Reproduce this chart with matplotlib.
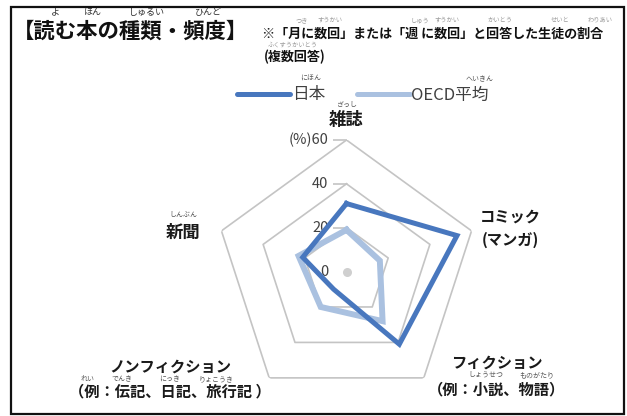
import numpy as np
import matplotlib
matplotlib.use("Agg")
import matplotlib.pyplot as plt
from matplotlib.lines import Line2D
from matplotlib.patches import Rectangle
from matplotlib.transforms import ScaledTranslation

plt.rcParams['font.family'] = ['Noto Sans CJK JP', 'DejaVu Sans']

# ---- data ----
categories = ['雑誌', 'コミック\n(マンガ)', 'フィクション\n（例：小説、物語）',
              'ノンフィクション\n（例：伝記、日記、旅行記 ）', '新聞']
japan = [31, 53, 41, 10, 21]
oecd = [19, 16, 28, 20, 23]
series_names = ['日本', 'OECD平均']
r_ticks = [0, 20, 40, 60]
r_tick_labels = ['0', '20', '40', '(%)60']

W, H = 627, 416
fig = plt.figure(figsize=(W / 100, H / 100), dpi=100)
fig.patch.set_facecolor('white')


def px(x, y):
    """pixel position (from top-left) -> figure fraction"""
    return x / W, 1 - y / H


# ---- radar axes ----
cx, cy, R = 346.5, 271.5, 131.5
ax = fig.add_axes([(cx - R) / W, (H - cy - R) / H, 2 * R / W, 2 * R / H],
                  projection='polar')
ax.set_theta_offset(np.pi / 2)
ax.set_theta_direction(-1)
ax.set_ylim(0, 60)
ax.grid(False)
ax.set_xticks([])
ax.set_yticks([])
ax.spines['polar'].set_visible(False)
ax.patch.set_visible(False)

n = len(categories)
theta = np.linspace(0, 2 * np.pi, n, endpoint=False)
theta_c = np.append(theta, theta[0])

grid_col = '#C4C4C4'
for r in r_ticks[1:]:
    ax.plot(theta_c, [r] * (n + 1), color=grid_col, lw=1.2, zorder=1)
ax.plot([0], [0], 'o', ms=6.5, color='#CFCFCF', mec='none', zorder=1)

# tick dashes and labels along the first spoke
dash_tr = ax.transData + ScaledTranslation(-6.5 / 100, 0, fig.dpi_scale_trans)
lab_tr = ax.transData + ScaledTranslation(-18 / 100, 0, fig.dpi_scale_trans)
for r, lab in zip(r_ticks, r_tick_labels):
    if r > 0:
        ax.plot([0], [r], marker='_', ms=9.4, mew=1.2, color=grid_col,
                transform=dash_tr, zorder=1, clip_on=False)
    ax.text(0, r, lab, transform=lab_tr, ha='right', va='center',
            fontsize=10.5, color='#404040', zorder=2)

jp_col = '#4877BE'
oe_col = '#AAC1E0'
ax.plot(theta_c, oecd + oecd[:1], color=oe_col, lw=4.3, zorder=3,
        solid_joinstyle='miter')
ax.plot(theta_c, japan + japan[:1], color=jp_col, lw=3.6, zorder=4,
        solid_joinstyle='miter')

# ---- category labels (one text per line) ----
lab_lines_y = [[120], [217, 240], [363, 389], [367, 391], [233]]
lab_x = [346, 510, 497, 170, 183]
lab_size = [12.5, 11, 11, 11, 12.5]
for lab, x, ys, fs in zip(categories, lab_x, lab_lines_y, lab_size):
    for line, y in zip(lab.split('\n'), ys):
        fig.text(*px(x, y), line, ha='center', va='center', fontsize=fs,
                 fontweight='bold', color='#1a1a1a')

ruby_col = '#555555'


def ruby(x, y, s, fs=5, col=ruby_col):
    fig.text(*px(x, y), s, ha='center', va='center', fontsize=fs, color=col)


ruby(347, 105, 'ざっし')
ruby(183, 215, 'しんぶん')
ruby(486, 375, 'しょうせつ')
ruby(537, 375, 'ものがたり')
ruby(88, 379, 'れい')
ruby(122, 379, 'でんき')
ruby(170, 379, 'にっき')
ruby(216, 379, 'りょこうき')

# ---- legend ----
leg_y = 94
fig.add_artist(Line2D([237 / W, 290 / W], [1 - leg_y / H] * 2, color=jp_col,
                      lw=3.6, solid_capstyle='round'))
fig.text(*px(292, leg_y + 1), series_names[0], ha='left', va='center',
         fontsize=12, color='#404040')
fig.add_artist(Line2D([357 / W, 410 / W], [1 - leg_y / H] * 2, color=oe_col,
                      lw=3.6, solid_capstyle='round'))
fig.text(*px(411, leg_y + 1), series_names[1], ha='left', va='center',
         fontsize=12, color='#404040')
ruby(311, 79, 'にほん')
ruby(480, 79, 'へいきん')

# ---- title and note ----
fig.text(*px(13, 31), '【読む本の種類・頻度】', ha='left', va='center',
         fontsize=15.4, fontweight='bold', color='#111111')
for x, s in [(55, 'よ'), (93, 'ほん'), (147, 'しゅるい'), (208, 'ひんど')]:
    ruby(x, 12, s, fs=6.5, col='#333333')

fig.text(*px(262, 34), '※「月に数回」または「週 に数回」と回答した生徒の割合',
         ha='left', va='center', fontsize=9.4, fontweight='bold', color='#111111')
fig.text(*px(264, 57), '(複数回答)', ha='left', va='center', fontsize=9.4,
         fontweight='bold', color='#111111')
note_ruby = [(302, 'つき'), (330, 'すうかい'), (420, 'しゅう'), (447, 'すうかい'),
             (500, 'かいとう'), (560, 'せいと'), (600, 'わりあい')]
for x, s in note_ruby:
    ruby(x, 20, s, fs=4.5, col='#9a9a9a')
ruby(293, 45, 'ふくすうかいとう', fs=4.5, col='#9a9a9a')

# ---- frame ----
fig.add_artist(Rectangle((11 / W, 1 - 414 / H), 613 / W, 407 / H,
                         transform=fig.transFigure, fill=False,
                         edgecolor='#111111', lw=1.6))

fig.savefig('out.png', dpi=100, facecolor='white')
